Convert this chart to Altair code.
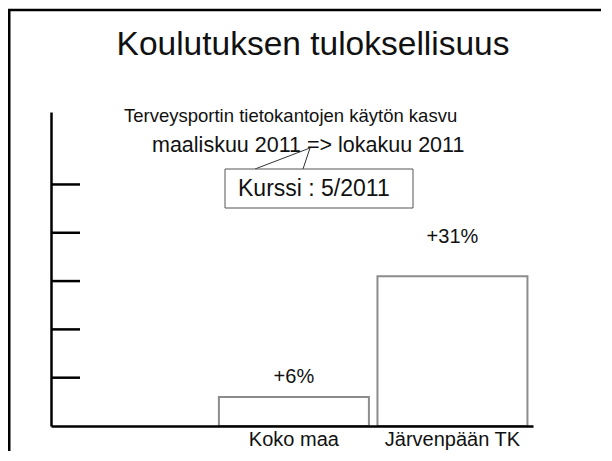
import altair as alt
import pandas as pd

categories = ["Koko maa", "Järvenpään TK"]
values = [6, 31]
value_labels = ["+6%", "+31%"]
y_ticks = [10, 20, 30, 40, 50]
title_text = ["Koulutuksen tuloksellisuus"]
subtitle_line1 = ["Terveysportin tietokantojen käytön kasvu"]
subtitle_line2 = ["maaliskuu 2011 => lokakuu 2011"]
callout_text = ["Kurssi : 5/2011"]

FONT = "Liberation Sans"
W, H = 482, 314

df = pd.DataFrame({"cat": categories, "val": values, "lab": value_labels})
ticks_df = pd.DataFrame({"v": y_ticks})

yscale = alt.Scale(domain=[0, 65], nice=False, zero=True)
xscale = alt.Scale(domain=categories, paddingInner=0.054, paddingOuter=0.547, align=0.968)

base = alt.Chart(df)

bars = base.mark_bar(fill="white", stroke="#8c8c8c", strokeWidth=2).encode(
    x=alt.X("cat:N", scale=xscale, sort=categories,
            axis=alt.Axis(title=None, ticks=False, labelAngle=0, labelFontSize=20,
                          labelFont=FONT, labelColor="#111", labelPadding=3,
                          domainColor="black", domainWidth=2.5, zindex=1)),
    y=alt.Y("val:Q", scale=yscale,
            axis=alt.Axis(title=None, ticks=False, labels=False, grid=False,
                          domainColor="black", domainWidth=2.5, zindex=1)),
)

lab1 = base.transform_filter(alt.datum.cat == categories[0]).mark_text(
    font=FONT, fontSize=20, color="#111", baseline="middle", dy=-20
).encode(x=alt.X("cat:N", scale=xscale, sort=categories),
         y=alt.Y("val:Q", scale=yscale), text="lab:N")
lab2 = base.transform_filter(alt.datum.cat == categories[1]).mark_text(
    font=FONT, fontSize=20, color="#111", baseline="middle", dy=-39
).encode(x=alt.X("cat:N", scale=xscale, sort=categories),
         y=alt.Y("val:Q", scale=yscale), text="lab:N")

yticks = alt.Chart(ticks_df).mark_rule(color="black", strokeWidth=2.5).encode(
    y=alt.Y("v:Q", scale=yscale), x=alt.value(0), x2=alt.value(29)
)

def txt(lines, x, y, size, align="center", baseline="middle"):
    return alt.Chart(pd.DataFrame({"t": lines})).mark_text(
        font=FONT, fontSize=size, color="#111", align=align, baseline=baseline
    ).encode(text="t:N", x=alt.value(x), y=alt.value(y))

title = txt(title_text, 262, -57, 33.5, baseline="alphabetic")
sub1 = txt(subtitle_line1, 73, 4, 18.5, align="left")
sub2 = txt(subtitle_line2, 101, 34, 21.5, align="left")

one = pd.DataFrame({"a": [0]})
box = alt.Chart(one).mark_rect(fill="white", stroke="#555", strokeWidth=1).encode(
    x=alt.value(174), x2=alt.value(362), y=alt.value(57), y2=alt.value(96)
)
lead1 = alt.Chart(one).mark_rule(color="#333", strokeWidth=1).encode(
    x=alt.value(204), y=alt.value(57), x2=alt.value(259), y2=alt.value(36)
)
lead2 = alt.Chart(one).mark_rule(color="#333", strokeWidth=1).encode(
    x=alt.value(252), y=alt.value(57), x2=alt.value(259), y2=alt.value(36)
)
callout = txt(callout_text, 187, 77, 23, align="left")

frame_left = alt.Chart(one).mark_rule(color="black", strokeWidth=3).encode(
    x=alt.value(-42), y=alt.value(-102), y2=alt.value(345)
)
frame_top = alt.Chart(one).mark_rule(color="black", strokeWidth=2.5).encode(
    x=alt.value(-43), x2=alt.value(560), y=alt.value(-102)
)

chart = alt.layer(
    frame_left, frame_top, bars, yticks, lab1, lab2, title, sub1, sub2,
    lead1, lead2, box, callout
).properties(
    width=W, height=H,
    autosize=alt.AutoSizeParams(type="none"),
    padding={"left": 43, "top": 104, "right": 68, "bottom": 25},
).configure(background="white").configure_view(strokeWidth=0, stroke="transparent")

chart.save("out.html", embed_options={"renderer": "svg", "actions": False})
